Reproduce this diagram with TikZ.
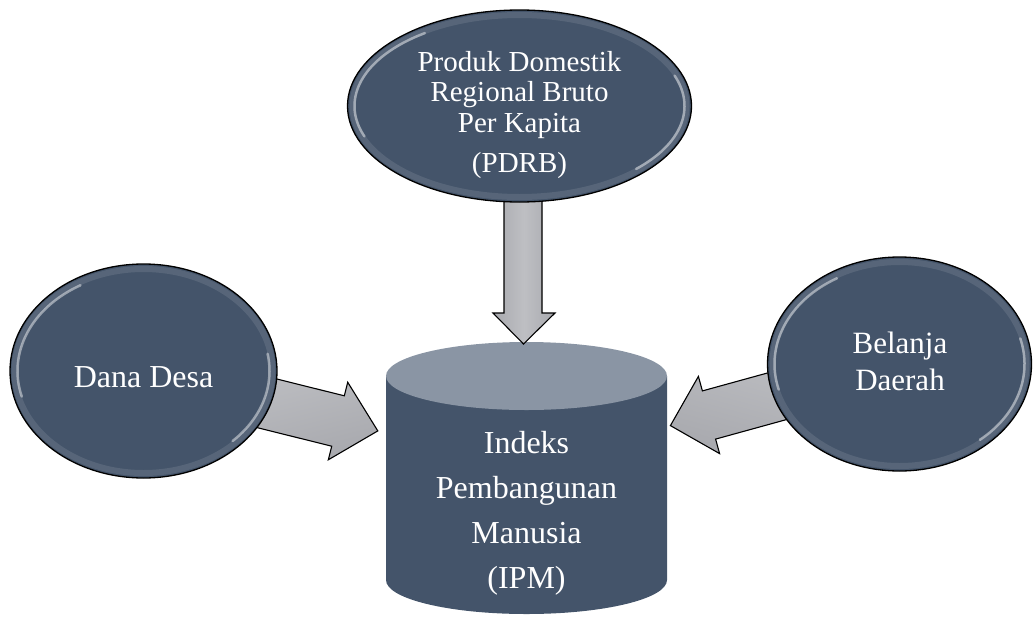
\documentclass[tikz,border=0pt]{standalone}
\usepackage{fontspec}
\setmainfont{Liberation Serif}
\usetikzlibrary{shapes.geometric}
\definecolor{slate}{HTML}{44546A}
\definecolor{slatetop}{HTML}{8A95A4}
\definecolor{arrowgray}{HTML}{BEBFC3}
\definecolor{arrowdark}{HTML}{A8A9AE}
\tikzset{
  bubble/.style={ellipse, draw=black, line width=1.3pt, fill=slate, inner sep=0pt},
  bevel/.style={draw=white, draw opacity=0.10, line width=6pt},
  shine/.style={draw=white, draw opacity=0.45, line width=2.5pt, line cap=round},
  labeltext/.style={text=white, align=center, inner sep=0pt},
  blockarrow/.style={draw=black, line width=1.1pt, line join=miter, fill=arrowgray},
}
\begin{document}
\begin{tikzpicture}[x=1pt,y=-1pt]
\useasboundingbox (0,0) rectangle (1033,616);

% cylinder
\fill[slate] (386,376) -- (386,580) arc[start angle=180, end angle=0, x radius=140.5, y radius=34] -- (667,376) -- cycle;
\fill[slatetop] (526.5,376) ellipse[x radius=140.5, y radius=34];
\node[labeltext, font=\fontsize{32}{45}\selectfont] (ipm) at (526.5,513) {Indeks\\Pembangunan\\Manusia\\(IPM)};

% arrows
\draw[blockarrow, left color=arrowdark, right color=arrowdark, middle color=arrowgray]
  (504,180) -- (504,313) -- (493,313) -- (523.5,344) -- (555,313) -- (542,313) -- (542,180) -- cycle;
\draw[blockarrow, top color=arrowgray, bottom color=arrowdark, shading angle=14]
  (227.9,366.8) -- (344.3,395.8) -- (347.7,382.2) -- (377.8,430.9) -- (328.3,459.8) -- (331.7,446.2) -- (215.3,417.2) -- cycle;
\draw[blockarrow, top color=arrowgray, bottom color=arrowdark, shading angle=-15]
  (837.4,353.7) -- (702.4,390.9) -- (698.4,376.4) -- (670.4,425.6) -- (719.6,453.6) -- (715.6,439.1) -- (850.6,401.9) -- cycle;

% ellipses
\node[bubble, minimum width=344pt, minimum height=192pt] (pdrb) at (519.5,106) {};
\draw[bevel] (pdrb.center) ellipse[x radius=167, y radius=91];
\draw[shine] (pdrb.center) ++({165*cos(160)},{89*sin(160)}) arc[start angle=160, end angle=235, x radius=165, y radius=89];
\draw[shine] (pdrb.center) ++({165*cos(-20)},{89*sin(-20)}) arc[start angle=-20, end angle=45, x radius=165, y radius=89];
\node[labeltext, font=\fontsize{29}{30.5}\selectfont] (pdrbtext) at (519.5,115) {Produk Domestik\\Regional Bruto\\Per Kapita\\[9.5pt](PDRB)};

\node[bubble, minimum width=267pt, minimum height=214pt] (dana) at (143.5,371) {};
\draw[bevel] (dana.center) ellipse[x radius=129, y radius=102];
\draw[shine] (dana.center) ++({126*cos(165)},{99*sin(165)}) arc[start angle=165, end angle=240, x radius=126, y radius=99];
\draw[shine] (dana.center) ++({126*cos(-10)},{99*sin(-10)}) arc[start angle=-10, end angle=45, x radius=126, y radius=99];
\node[labeltext, font=\fontsize{32}{36}\selectfont] (danatext) at (143.5,377) {Dana Desa};

\node[bubble, minimum width=264pt, minimum height=214pt] (belanja) at (899.5,364) {};
\draw[bevel] (belanja.center) ellipse[x radius=127, y radius=102];
\draw[shine] (belanja.center) ++({125*cos(165)},{99*sin(165)}) arc[start angle=165, end angle=240, x radius=125, y radius=99];
\draw[shine] (belanja.center) ++({125*cos(-15)},{99*sin(-15)}) arc[start angle=-15, end angle=50, x radius=125, y radius=99];
\node[labeltext, font=\fontsize{31}{37}\selectfont] (belanjatext) at (900,361.5) {Belanja\\Daerah};
\end{tikzpicture}
\end{document}
